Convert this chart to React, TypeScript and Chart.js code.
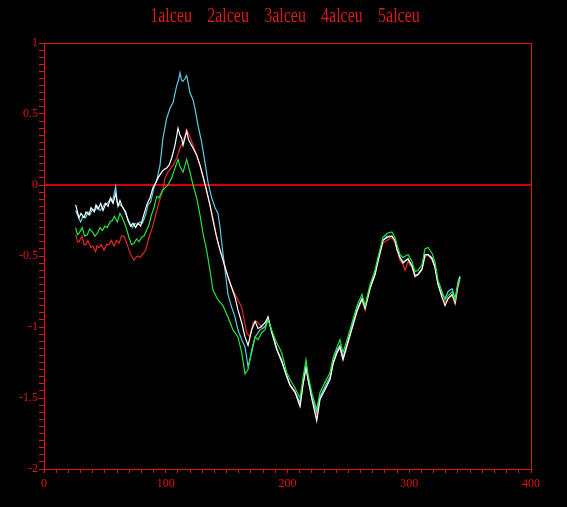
import React, { useEffect, useRef } from "react";
import { Chart, registerables } from "chart.js";

Chart.register(...registerables);

const TITLE = "1alceu 2alceu 3alceu 4alceu 5alceu";
const X_MIN = 0;
const X_MAX = 400;
const Y_MIN = -2;
const Y_MAX = 1;
const ZERO_LINE = 0;

const whiteX = [26.0,27.5,28.7,30.4,32.9,34.5,37.0,38.6,41.1,42.7,44.4,46.6,48.5,50.7,52.6,54.8,56.7,58.9,60.8,62.4,64.1,67.1,69.0,71.2,73.1,75.3,77.2,79.4,81.3,84.4,87.1,89.5,92.0,93.6,96.7,98.6,100.8,102.7,104.9,107.6,110.1,111.7,113.1,114.2,117.2,118.7,119.9,122.4,125.4,128.1,130.6,133.6,136.3,138.8,141.3,144.6,148.7,152.8,156.9,159.3,162.4,165.1,167.6,170.6,173.4,175.8,178.2,181.5,184.0,187.3,191.4,195.5,199.6,202.1,206.2,210.3,212.7,215.2,216.8,220.1,224.0,226.7,230.8,234.9,237.4,240.7,243.1,245.6,248.9,253.0,257.1,261.2,263.7,267.8,271.9,274.3,278.4,281.7,285.8,288.3,289.9,292.4,294.9,299.0,302.3,304.7,307.2,310.5,312.9,315.4,318.7,321.1,323.6,326.9,329.4,331.9,335.2,337.7,340.1,341.7];
const whiteY = [-0.14,-0.19,-0.23,-0.20,-0.23,-0.19,-0.21,-0.16,-0.19,-0.14,-0.17,-0.13,-0.18,-0.13,-0.15,-0.09,-0.13,-0.06,-0.15,-0.11,-0.15,-0.19,-0.25,-0.29,-0.27,-0.30,-0.27,-0.29,-0.23,-0.14,-0.09,-0.02,0.02,0.05,0.09,0.11,0.12,0.14,0.19,0.28,0.40,0.35,0.33,0.28,0.38,0.32,0.30,0.26,0.21,0.14,0.06,-0.04,-0.14,-0.25,-0.35,-0.46,-0.58,-0.69,-0.79,-0.88,-0.97,-1.07,-1.13,-1.02,-0.96,-1.01,-1.00,-0.97,-0.93,-1.04,-1.16,-1.25,-1.35,-1.41,-1.46,-1.56,-1.41,-1.29,-1.36,-1.51,-1.66,-1.51,-1.44,-1.37,-1.26,-1.18,-1.14,-1.23,-1.13,-1.01,-0.89,-0.80,-0.87,-0.73,-0.63,-0.54,-0.39,-0.37,-0.36,-0.39,-0.45,-0.51,-0.55,-0.52,-0.57,-0.64,-0.63,-0.59,-0.49,-0.49,-0.52,-0.58,-0.70,-0.79,-0.85,-0.80,-0.77,-0.83,-0.70,-0.65];

const redX = [26.0,27.5,28.7,31.2,32.9,34.3,36.1,38.4,40.2,42.5,43.5,45.2,47.2,49.3,51.3,53.4,55.4,57.5,59.5,61.6,63.7,65.7,68.4,71.2,73.9,76.6,78.9,80.7,83.5,86.2,89.0,91.7,94.5,97.2,99.4,101.8,103.5,106.0,109.0,111.7,114.2,117.2,119.9,122.4,125.4,128.1,130.6,133.6,136.3,138.8,142.9,147.0,151.1,155.2,159.3,162.4,166.5,169.2,171.7,174.7,178.8,181.5,184.0,187.3,191.4,195.5,199.6,202.1,206.2,210.3,212.7,215.2,216.8,220.1,224.0,226.7,230.8,234.9,237.4,240.7,243.1,245.6,248.9,253.0,257.1,261.2,263.7,267.8,271.9,274.3,278.4,281.7,285.8,288.3,289.9,292.4,294.9,296.5,299.0,302.3,304.7,307.2,310.5,312.9,315.4,318.7,321.1,323.6,326.9,329.4,331.9,335.2,337.7,340.1,341.7];
const redY = [-0.35,-0.40,-0.40,-0.36,-0.42,-0.42,-0.39,-0.44,-0.43,-0.47,-0.43,-0.44,-0.42,-0.46,-0.42,-0.42,-0.39,-0.43,-0.39,-0.41,-0.36,-0.36,-0.42,-0.49,-0.53,-0.50,-0.51,-0.49,-0.46,-0.37,-0.30,-0.21,-0.12,-0.05,0.05,0.09,0.11,0.14,0.19,0.26,0.30,0.39,0.34,0.28,0.21,0.14,0.06,-0.05,-0.14,-0.23,-0.41,-0.51,-0.65,-0.74,-0.81,-0.86,-1.04,-1.07,-0.97,-0.96,-1.00,-1.00,-0.94,-1.04,-1.16,-1.25,-1.35,-1.41,-1.45,-1.55,-1.40,-1.28,-1.36,-1.50,-1.63,-1.50,-1.44,-1.37,-1.26,-1.18,-1.15,-1.23,-1.14,-1.01,-0.89,-0.81,-0.88,-0.73,-0.63,-0.54,-0.41,-0.39,-0.37,-0.41,-0.46,-0.53,-0.56,-0.60,-0.54,-0.58,-0.65,-0.63,-0.60,-0.51,-0.49,-0.53,-0.58,-0.70,-0.79,-0.83,-0.80,-0.78,-0.84,-0.72,-0.67];

const cyanX = [26.0,27.9,30.1,32.0,34.3,36.1,37.8,39.7,41.9,43.8,46.0,47.9,50.1,52.0,54.2,56.1,57.9,58.9,60.2,62.4,64.3,66.5,68.4,70.6,72.5,74.7,76.6,78.9,80.7,83.5,85.4,87.6,90.3,92.8,95.3,97.7,100.8,103.5,106.0,109.0,110.5,111.7,112.9,114.2,115.8,117.2,118.3,119.9,122.4,124.0,126.5,129.5,132.2,134.7,137.7,140.5,142.9,144.6,146.0,148.7,151.1,154.1,156.9,159.3,162.4,165.1,167.6,170.6,173.4,177.4,181.5,184.0,187.0,191.1,195.2,199.3,202.1,206.2,210.3,212.7,215.2,216.8,220.1,224.0,226.7,230.8,234.9,237.4,240.7,243.1,245.6,248.9,253.0,257.1,261.2,263.7,267.8,271.9,274.3,278.4,281.7,285.8,288.3,289.9,292.4,294.9,299.0,302.3,304.7,307.2,310.5,312.9,315.4,318.7,321.1,323.6,326.9,329.4,331.9,335.2,337.7,340.1,341.7];
const cyanY = [-0.18,-0.22,-0.26,-0.22,-0.23,-0.19,-0.21,-0.17,-0.18,-0.15,-0.18,-0.16,-0.13,-0.13,-0.10,-0.12,-0.05,-0.01,-0.13,-0.14,-0.15,-0.19,-0.23,-0.27,-0.30,-0.27,-0.28,-0.26,-0.27,-0.21,-0.14,-0.12,-0.02,0.04,0.14,0.33,0.47,0.54,0.58,0.70,0.74,0.79,0.74,0.73,0.75,0.77,0.72,0.65,0.60,0.54,0.42,0.30,0.16,0.02,-0.09,-0.16,-0.20,-0.30,-0.41,-0.60,-0.77,-0.86,-0.93,-1.02,-1.09,-1.14,-1.28,-1.18,-1.07,-1.02,-1.00,-0.93,-1.04,-1.16,-1.23,-1.35,-1.41,-1.46,-1.53,-1.39,-1.27,-1.37,-1.50,-1.60,-1.49,-1.42,-1.35,-1.25,-1.16,-1.13,-1.21,-1.12,-0.99,-0.87,-0.80,-0.86,-0.72,-0.62,-0.53,-0.39,-0.36,-0.36,-0.39,-0.45,-0.51,-0.54,-0.52,-0.57,-0.64,-0.63,-0.59,-0.49,-0.49,-0.51,-0.57,-0.69,-0.77,-0.80,-0.75,-0.73,-0.80,-0.68,-0.64];

const greenX = [26.0,27.5,28.7,31.5,33.3,35.6,37.4,39.7,41.9,43.8,46.0,47.9,50.1,52.0,54.2,56.1,57.9,60.2,62.4,64.3,67.1,69.8,71.9,73.9,76.0,78.0,80.1,82.1,84.2,86.2,88.3,90.3,92.6,94.5,97.2,99.4,101.8,104.9,107.6,110.1,111.7,114.2,117.2,119.9,122.4,125.4,128.1,130.6,133.6,136.3,138.8,142.9,147.0,151.1,155.2,159.3,162.4,165.1,167.6,170.6,173.4,175.8,178.8,181.5,184.0,187.0,191.1,195.2,199.3,202.1,206.2,210.3,212.7,215.2,216.8,220.1,224.0,226.7,230.8,234.9,237.4,240.7,243.1,245.6,248.9,253.0,257.1,261.2,263.7,267.8,271.9,274.3,278.4,281.7,285.8,288.3,289.9,292.4,294.9,299.0,302.3,304.7,307.2,310.5,312.9,315.4,318.7,321.1,323.6,326.9,329.4,331.9,335.2,337.7,340.1,341.7];
const greenY = [-0.30,-0.35,-0.34,-0.30,-0.36,-0.35,-0.31,-0.33,-0.36,-0.34,-0.30,-0.32,-0.29,-0.30,-0.26,-0.25,-0.22,-0.26,-0.20,-0.23,-0.29,-0.37,-0.42,-0.41,-0.38,-0.40,-0.37,-0.36,-0.32,-0.28,-0.21,-0.16,-0.08,-0.09,-0.04,-0.02,0.00,0.05,0.12,0.18,0.13,0.09,0.18,0.09,0.00,-0.09,-0.21,-0.34,-0.46,-0.60,-0.74,-0.81,-0.85,-0.93,-1.02,-1.07,-1.18,-1.33,-1.30,-1.16,-1.07,-1.09,-1.04,-1.02,-0.95,-1.02,-1.11,-1.18,-1.32,-1.37,-1.43,-1.50,-1.36,-1.23,-1.33,-1.47,-1.58,-1.46,-1.39,-1.32,-1.22,-1.14,-1.09,-1.18,-1.09,-0.97,-0.85,-0.77,-0.85,-0.70,-0.60,-0.51,-0.37,-0.34,-0.33,-0.37,-0.42,-0.49,-0.51,-0.49,-0.54,-0.61,-0.60,-0.56,-0.45,-0.44,-0.48,-0.54,-0.67,-0.75,-0.81,-0.78,-0.75,-0.81,-0.69,-0.66];

const AXIS_RED = "rgb(225,20,20)";

function pts(xs: number[], ys: number[]) {
  return xs.map((x, i) => ({ x, y: ys[i] }));
}

const framePlugin = {
  id: "frameAndTitle",
  beforeDatasetsDraw(chart: any) {
    const { ctx, chartArea, scales } = chart;
    const y0 = Math.round(scales.y.getPixelForValue(ZERO_LINE));
    ctx.save();
    ctx.fillStyle = "rgb(215,0,0)";
    ctx.fillRect(Math.round(chartArea.left), y0 - 1, Math.round(chartArea.right - chartArea.left), 2);
    ctx.restore();
  },
  afterDraw(chart: any) {
    const { ctx, chartArea } = chart;
    const { left, right, top, bottom } = chartArea;
    ctx.save();
    ctx.fillStyle = AXIS_RED;
    ctx.fillRect(Math.round(left) - 1, Math.round(top), Math.round(right - left) + 2, 1);
    ctx.fillRect(Math.round(right), Math.round(top), 1, Math.round(bottom - top) + 1);
    ctx.restore();

    ctx.save();
    ctx.fillStyle = "rgb(215,28,28)";
    ctx.font = '20px "Liberation Serif"';
    ctx.textAlign = "center";
    ctx.textBaseline = "alphabetic";
    try { (ctx as any).wordSpacing = "14px"; } catch (e) {}
    ctx.translate(285, 22);
    ctx.scale(0.8, 1);
    ctx.fillText(TITLE, 0, 0);
    ctx.restore();
  },
};

export default function App() {
  const ref = useRef<HTMLCanvasElement | null>(null);
  useEffect(() => {
    document.body.style.margin = "0";
    document.body.style.background = "#000";
    if (!ref.current) return;
    const chart = new Chart(ref.current, {
      type: "line",
      data: {
        datasets: [
          { label: "red", data: pts(redX, redY), borderColor: "rgb(230,40,40)", order: 4 },
          { label: "cyan", data: pts(cyanX, cyanY), borderColor: "rgb(90,205,225)", order: 3 },
          { label: "white", data: pts(whiteX, whiteY), borderColor: "#ffffff", order: 2 },
          { label: "green", data: pts(greenX, greenY), borderColor: "rgb(40,225,60)", order: 1 },
        ],
      },
      options: {
        animation: false,
        responsive: false,
        maintainAspectRatio: false,
        layout: { padding: { left: 0, right: 36, top: 43, bottom: 0 } },
        elements: {
          point: { radius: 0 },
          line: { borderWidth: 1.2, tension: 0, fill: false },
        },
        plugins: {
          legend: { display: false },
          tooltip: { enabled: false },
          title: { display: false },
        },
        scales: {
          x: {
            type: "linear",
            min: X_MIN,
            max: X_MAX,
            border: { display: true, color: AXIS_RED, width: 1 },
            grid: { drawOnChartArea: false, drawTicks: true, tickLength: 4, tickColor: AXIS_RED },
            ticks: {
              stepSize: 10,
              autoSkip: false,
              maxRotation: 0,
              color: AXIS_RED,
              padding: 4,
              font: { family: "Liberation Serif", size: 12 },
              callback: (v: any) => (Math.abs(v % 100) < 1e-9 ? String(v) : ""),
            },
            afterFit: (s: any) => { s.height = 38; },
          },
          y: {
            type: "linear",
            min: Y_MIN,
            max: Y_MAX,
            border: { display: true, color: AXIS_RED, width: 1 },
            grid: {
              drawOnChartArea: false,
              drawTicks: true,
              tickLength: 5,
              tickColor: AXIS_RED,
            },
            ticks: {
              stepSize: 0.05,
              autoSkip: false,
              color: AXIS_RED,
              padding: 1,
              font: { family: "Liberation Serif", size: 12 },
              callback: (v: any) => {
                const d = v * 2;
                if (Math.abs(d - Math.round(d)) > 1e-6) return "";
                return String(Number(Number(v).toFixed(2)));
              },
            },
            afterFit: (s: any) => { s.width = 44; },
          },
        },
      },
      plugins: [framePlugin],
    });
    return () => chart.destroy();
  }, []);
  return (
    <div style={{ width: 567, height: 507, background: "#000" }}>
      <canvas ref={ref} width={567} height={507} style={{ display: "block" }} />
    </div>
  );
}
